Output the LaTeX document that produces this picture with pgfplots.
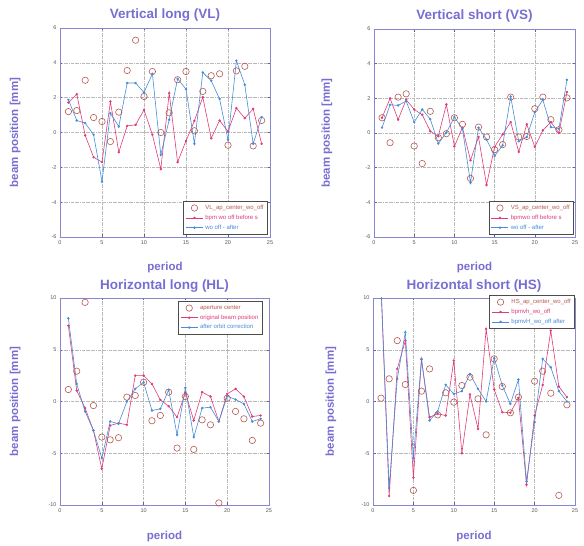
\documentclass[border=0pt]{standalone}
\usepackage{pgfplots}
\usepackage{pgfplotstable}
\pgfplotsset{compat=1.18}
\usepackage{fontspec}
\setmainfont{Liberation Sans}
\definecolor{titlecol}{RGB}{120,110,210}
\definecolor{axcol}{RGB}{135,135,205}
\definecolor{redc}{RGB}{222,60,120}
\definecolor{bluec}{RGB}{70,140,215}
\definecolor{circc}{RGB}{180,90,80}

\pgfplotstableread{
x circ red blue
1 1.20 1.72 1.88
2 1.26 2.20 0.69
3 3.00 -0.17 0.54
4 0.86 -1.42 -0.13
5 0.63 -1.70 -2.82
6 -0.52 1.78 1.11
7 1.17 -1.13 0.34
8 3.56 0.38 2.84
9 5.30 0.44 2.84
10 2.07 1.30 2.30
11 3.50 -0.13 3.37
12 0.00 -2.10 -1.28
13 1.13 2.26 0.73
14 3.03 -1.70 3.08
15 3.50 -0.48 2.49
16 0.10 0.67 -0.65
17 2.36 2.03 3.45
18 3.26 -0.33 2.97
19 3.37 0.69 1.93
20 -0.73 0.06 -0.42
21 3.54 1.40 4.12
22 3.80 0.82 2.74
23 -0.77 1.36 -0.65
24 0.69 -0.65 0.88
}\VL

\pgfplotstableread{
x circ red blue
1 0.88 0.88 0.31
2 -0.56 2.00 1.63
3 2.07 0.77 1.59
4 2.26 1.92 1.84
5 -0.75 1.36 0.63
6 -1.76 1.05 1.36
7 1.25 0.10 0.80
8 -0.27 -0.19 -0.61
9 -0.04 1.65 0.02
10 0.88 -0.77 0.92
11 0.50 0.31 0.25
12 -2.62 -1.57 -2.87
13 0.34 -0.23 0.31
14 -0.23 -3.00 -0.38
15 -0.96 -0.80 -1.32
16 -0.67 -0.08 -0.71
17 2.07 0.63 2.10
18 -0.23 -1.09 -0.48
19 -0.20 0.50 -0.23
20 1.40 -0.80 1.20
21 2.07 0.15 1.92
22 0.77 0.63 0.34
23 0.19 0.00 0.25
24 2.03 2.36 3.07
}\VS

\pgfplotstableread{
x circ red blue
1 1.16 7.33 8.04
2 2.93 1.06 1.70
3 9.58 -0.64 -0.96
4 -0.39 -2.80 -2.80
5 -3.44 -6.50 -5.47
6 -3.70 -2.32 -1.93
7 -3.50 -2.09 -2.15
8 0.42 -2.25 0.00
9 0.58 2.50 1.22
10 1.86 2.50 1.86
11 -1.86 1.70 -0.87
12 -1.35 0.16 -0.71
13 0.90 -0.45 1.13
14 -4.50 -1.51 -3.22
15 0.48 0.84 1.32
16 -4.63 -1.83 -3.44
17 -1.77 0.90 -0.64
18 -2.25 0.48 -0.55
19 -9.80 -1.93 -1.93
20 0.32 0.74 0.51
21 -0.96 1.22 0.19
22 -1.67 0.48 -0.23
23 -3.76 -1.45 -1.93
24 -2.09 -1.35 -1.67
}\HL

\pgfplotstableread{
x circ red blue
1 0.32 11 11
2 2.19 -9.13 -8.36
3 5.88 3.15 2.19
4 1.64 5.88 6.69
5 -8.59 -7.36 -5.47
6 1.00 4.05 4.12
7 3.15 -1.51 -1.83
8 -1.29 -1.19 -0.96
9 0.84 -1.35 1.61
10 -0.06 3.95 0.74
11 1.54 -4.98 1.00
12 2.35 0.68 2.67
13 0.26 -2.64 1.22
14 -3.22 7.00 0.00
15 4.12 1.16 4.18
16 1.45 -1.03 1.54
17 -1.09 -1.09 -0.23
18 0.42 0.35 2.12
19 nan -8.04 -7.72
20 1.96 -1.35 -1.99
21 2.93 1.60 4.12
22 0.80 6.85 3.31
23 -9.07 1.45 1.00
24 -0.32 0.42 0.00
}\HS

\pgfplotsset{
  panel/.style={
    scale only axis,
    xmin=0, xmax=25, xtick={0,5,...,25},
    axis line style={axcol, line width=0.8pt},
    tick style={axcol!70!black, line width=0.4pt},
    major tick length=2.5pt,
    tick label style={font=\fontsize{5.5}{6.5}\selectfont, text=gray!70!black},
    /pgf/number format/assume math mode=true,
    grid=major,
    major grid style={gray!55, line width=0.4pt, densely dash dot},
    title style={font=\fontsize{13.5}{15}\selectfont\bfseries, text=titlecol},
    xlabel={period}, ylabel={beam position [mm]},
    label style={font=\fontsize{11.5}{13}\selectfont\bfseries, text=titlecol},
    legend style={font=\fontsize{6}{7.5}\selectfont, draw=black!70, line width=0.6pt, inner sep=2pt, fill=white},
    legend cell align=left,
    clip=true,
  },
  circs/.style={only marks, mark=o, mark size=3.2pt, circc, mark options={line width=0.6pt}},
  reds/.style={redc, line width=0.6pt, mark=*, mark size=0.9pt},
  blues/.style={bluec, line width=0.6pt, mark=*, mark size=0.9pt},
}

\begin{document}
\begin{tikzpicture}
\path[use as bounding box] (0,0) rectangle (584pt,546pt);

% Vertical long
\begin{axis}[panel, at={(60pt,309pt)}, width=210pt, height=209pt,
  ymin=-6, ymax=6, ytick={-6,-4,...,6},
  title={Vertical long (VL)},
  title style={at={(axis description cs:0.5,1.033)}, anchor=center, yshift=0pt},
  xlabel style={at={(axis description cs:0.5,-0.145)}, anchor=center},
  ylabel style={at={(axis description cs:-0.214,0.5)}, anchor=center},
  legend style={at={(0.99,0.01)}, anchor=south east}]
\addplot[circs] table[x=x, y=circ] {\VL};
\addlegendentry{\textcolor{circc}{VL\_ap\_center\_wo\_off}}
\addplot[reds] table[x=x, y=red] {\VL};
\addlegendentry{\textcolor{redc}{bpm wo off before s}}
\addplot[blues] table[x=x, y=blue] {\VL};
\addlegendentry{\textcolor{bluec}{wo off - after}}
\end{axis}

% Vertical short
\begin{axis}[panel, at={(374pt,309pt)}, width=201pt, height=208pt,
  ymin=-6, ymax=6, ytick={-6,-4,...,6},
  title={Vertical short (VS)},
  title style={at={(axis description cs:0.5,1.033)}, anchor=center, yshift=0pt},
  xlabel style={at={(axis description cs:0.5,-0.145)}, anchor=center},
  ylabel style={at={(axis description cs:-0.234,0.5)}, anchor=center},
  legend style={at={(0.995,0.01)}, anchor=south east}]
\addplot[circs] table[x=x, y=circ] {\VS};
\addlegendentry{\textcolor{circc}{VS\_ap\_center\_wo\_off}}
\addplot[reds] table[x=x, y=red] {\VS};
\addlegendentry{\textcolor{redc}{bpmwo off before s}}
\addplot[blues] table[x=x, y=blue] {\VS};
\addlegendentry{\textcolor{bluec}{wo off - after}}
\end{axis}

% Horizontal long
\begin{axis}[panel, at={(60pt,41pt)}, width=209pt, height=207pt,
  ymin=-10, ymax=10, ytick={-10,-5,...,10},
  title={Horizontal long (HL)},
  title style={at={(axis description cs:0.5,1.03)}, anchor=center, yshift=0pt},
  xlabel style={at={(axis description cs:0.5,-0.15)}, anchor=center},
  ylabel style={at={(axis description cs:-0.215,0.5)}, anchor=center},
  legend style={at={(0.97,0.985)}, anchor=north east}]
\addplot[circs] table[x=x, y=circ] {\HL};
\addlegendentry{\textcolor{circc}{aperture center}}
\addplot[reds] table[x=x, y=red] {\HL};
\addlegendentry{\textcolor{redc}{original beam position}}
\addplot[blues] table[x=x, y=blue] {\HL};
\addlegendentry{\textcolor{bluec}{after orbit correction}}
\end{axis}

% Horizontal short
\begin{axis}[panel, at={(373pt,41pt)}, width=202pt, height=207pt,
  ymin=-10, ymax=10, ytick={-10,-5,...,10},
  title={Horizontal short (HS)},
  title style={at={(axis description cs:0.5,1.03)}, anchor=center, yshift=0pt},
  xlabel style={at={(axis description cs:0.5,-0.15)}, anchor=center},
  ylabel style={at={(axis description cs:-0.208,0.5)}, anchor=center},
  legend style={at={(1.0,1.015)}, anchor=north east}]
\addplot[circs] table[x=x, y=circ] {\HS};
\addlegendentry{\textcolor{circc}{HS\_ap\_center\_wo\_off}}
\addplot[reds] table[x=x, y=red] {\HS};
\addlegendentry{\textcolor{redc}{bpmvh\_wo\_off}}
\addplot[blues] table[x=x, y=blue] {\HS};
\addlegendentry{\textcolor{bluec}{bpmvH\_wo\_off after}}
\end{axis}
\end{tikzpicture}
\end{document}
